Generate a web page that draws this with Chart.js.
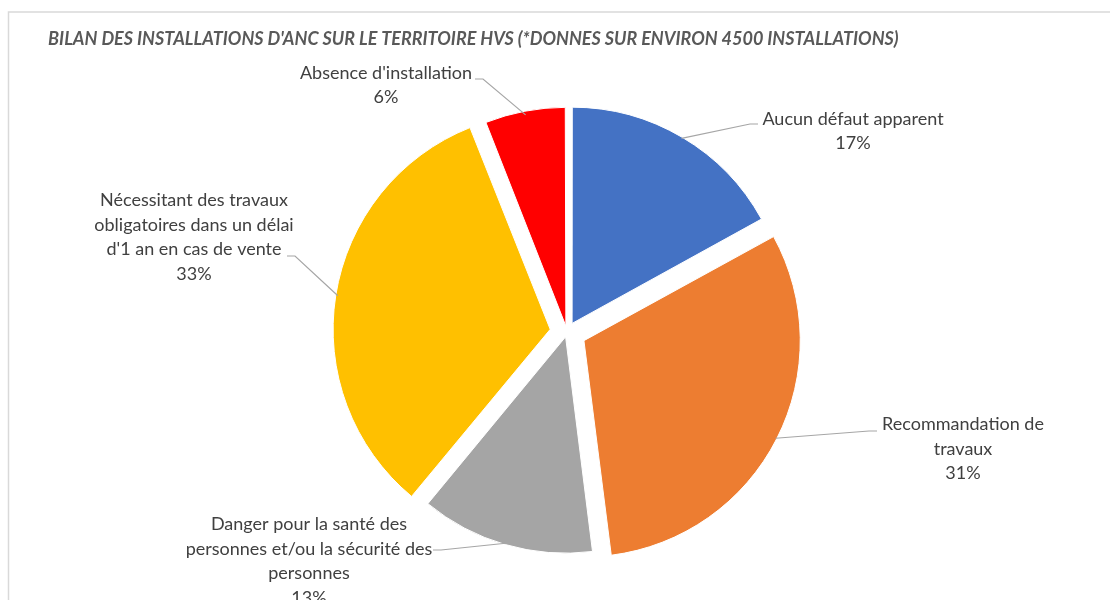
<!DOCTYPE html>
<html>
  <head>
    <title>Bilan des installations ANC</title>
    <script src="https://cdn.jsdelivr.net/npm/chart.js"></script>
    <style>
      body {
        margin: 0;
        background: #ffffff;
        overflow: hidden;
      }
      #pieChart {
        display: block;
      }
    </style>
  </head>
  <body>
    <canvas id="pieChart" width="1110" height="600"></canvas>

    <script>
      const chartTitle =
        "BILAN DES INSTALLATIONS D'ANC SUR LE TERRITOIRE HVS (*DONNES SUR ENVIRON 4500 INSTALLATIONS)";

      // one entry per slice, label text already wrapped as in the original
      const categories = [
        ["Aucun défaut apparent"],
        ["Recommandation de", "travaux"],
        ["Danger pour la santé des", "personnes et/ou la sécurité des", "personnes"],
        ["Nécessitant des travaux", "obligatoires dans un délai", "d'1 an en cas de vente"],
        ["Absence d'installation"],
      ];
      const values = [17, 31, 13, 33, 6];
      const sliceColors = ["#4472C4", "#ED7D31", "#A5A5A5", "#FFC000", "#FF0000"];

      // where each data label sits, relative to the pie centre (px)
      const labelLayout = [
        { dx: 286, dy: -201, ex: 191, ey: -208 },
        { dx: 396, dy: 117, ex: 310, ey: 99 },
        { dx: -258, dy: 229, ex: -134, ey: 218 },
        { dx: -373, dy: -95, ex: -280, ey: -76 },
        { dx: -181, dy: -247, ex: -92, ey: -253 },
      ];

      const frameAndTitle = {
        id: "frameAndTitle",
        beforeDraw(chart) {
          const ctx = chart.ctx;
          ctx.save();
          ctx.strokeStyle = "#d9d9d9";
          ctx.lineWidth = 1.5;
          ctx.beginPath();
          ctx.moveTo(8.5, 700);
          ctx.lineTo(8.5, 12);
          ctx.lineTo(1200, 12);
          ctx.stroke();

          ctx.font = "italic bold 18px Lato";
          ctx.fillStyle = "#595959";
          ctx.textBaseline = "middle";
          ctx.fillText(chartTitle, 48, 39);
          ctx.restore();
        },
      };

      const sliceLabels = {
        id: "sliceLabels",
        afterDatasetsDraw(chart) {
          const ctx = chart.ctx;
          const arcs = chart.getDatasetMeta(0).data;
          const total = values.reduce((a, b) => a + b, 0);
          const lineH = 24.5;
          ctx.save();
          ctx.font = "18px Lato";
          ctx.textAlign = "center";
          ctx.textBaseline = "middle";

          arcs.forEach((arc, i) => {
            const L = labelLayout[i];
            const mid = (arc.startAngle + arc.endAngle) / 2;
            const shift = (arc.options.offset || 0) / 4;
            const ox = arc.x + Math.cos(mid) * shift;
            const oy = arc.y + Math.sin(mid) * shift;
            const sx = ox + Math.cos(mid) * arc.outerRadius;
            const sy = oy + Math.sin(mid) * arc.outerRadius;
            const ex = arc.x + L.ex;
            const ey = arc.y + L.ey;
            const kx = ex + (L.ex > 0 ? -8 : 8);

            ctx.strokeStyle = "#a6a6a6";
            ctx.lineWidth = 1.2;
            ctx.beginPath();
            ctx.moveTo(sx, sy);
            ctx.lineTo(kx, ey);
            ctx.lineTo(ex, ey);
            ctx.stroke();

            const lines = categories[i].concat(
              Math.round((values[i] / total) * 100) + "%"
            );
            const tx = arc.x + L.dx;
            const ty = arc.y + L.dy;
            ctx.fillStyle = "#404040";
            lines.forEach((t, k) => {
              ctx.fillText(t, tx, ty + (k - (lines.length - 1) / 2) * lineH);
            });
          });
          ctx.restore();
        },
      };

      new Chart(document.getElementById("pieChart").getContext("2d"), {
        type: "pie",
        data: {
          labels: categories.map((c) => c.join(" ")),
          datasets: [
            {
              data: values,
              backgroundColor: sliceColors,
              borderColor: "#ffffff",
              borderWidth: 1,
              // slice explosion (offset is divided by 4 when drawn)
              offset: [40, 76, 20, 68, 24],
              hoverOffset: 0,
            },
          ],
        },
        options: {
          responsive: false,
          animation: false,
          radius: 215,
          layout: {
            padding: { left: 24, right: 0, top: 64, bottom: 0 },
          },
          plugins: {
            legend: { display: false },
            tooltip: { enabled: false },
          },
        },
        plugins: [frameAndTitle, sliceLabels],
      });
    </script>
  </body>
</html>
